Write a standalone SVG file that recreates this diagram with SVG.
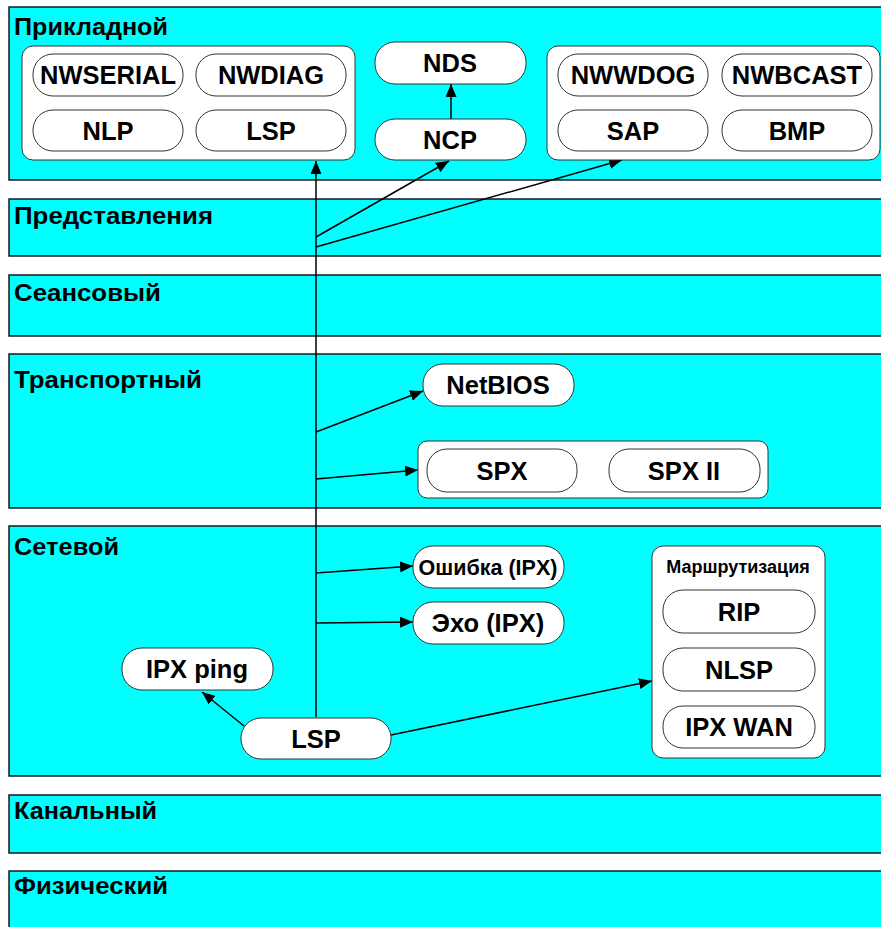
<svg xmlns="http://www.w3.org/2000/svg" width="881" height="927" viewBox="0 0 881 927">
<style>
.band{fill:#00ffff;stroke:#1a1a1a;stroke-width:1.5}
.grp{fill:#fff;stroke:#333;stroke-width:1}
.pill{fill:#fff;stroke:#333;stroke-width:1}
.lbl{font-family:"Liberation Sans",Arial,sans-serif;font-weight:bold;font-size:24px;fill:#000}
.t{font-family:"Liberation Sans",Arial,sans-serif;font-weight:bold;font-size:25.5px;fill:#000;text-anchor:middle}
.ts{font-size:21.5px}
.tr{font-size:18px}
.c{stroke:#000;stroke-width:1.5;fill:none;marker-end:url(#ah)}
</style>
<defs>
<marker id="ah" markerUnits="userSpaceOnUse" markerWidth="13" markerHeight="11" refX="13" refY="5.5" orient="auto">
<path d="M0,0 L13,5.5 L0,11 z" fill="#000"/>
</marker>
</defs>
<rect width="881" height="927" fill="#fff"/>
<g id="layers">
<g id="layer-app"><rect class="band" x="9" y="7" width="880" height="173"/><text class="lbl" x="14" y="35" textLength="154" lengthAdjust="spacingAndGlyphs">Прикладной</text></g>
<g id="layer-pres"><rect class="band" x="9" y="199" width="880" height="57"/><text class="lbl" x="14" y="224" textLength="199" lengthAdjust="spacingAndGlyphs">Представления</text></g>
<g id="layer-sess"><rect class="band" x="9" y="275" width="880" height="61"/><text class="lbl" x="14" y="301" textLength="147" lengthAdjust="spacingAndGlyphs">Сеансовый</text></g>
<g id="layer-trans"><rect class="band" x="9" y="354" width="880" height="154"/><text class="lbl" x="14" y="388" textLength="188" lengthAdjust="spacingAndGlyphs">Транспортный</text></g>
<g id="layer-net"><rect class="band" x="9" y="526" width="880" height="250"/><text class="lbl" x="14" y="555" textLength="105" lengthAdjust="spacingAndGlyphs">Сетевой</text></g>
<g id="layer-link"><rect class="band" x="9" y="795" width="880" height="58"/><text class="lbl" x="14" y="819" textLength="143" lengthAdjust="spacingAndGlyphs">Канальный</text></g>
<g id="layer-phys"><rect class="band" x="9" y="871" width="880" height="70"/><text class="lbl" x="14" y="894" textLength="154" lengthAdjust="spacingAndGlyphs">Физический</text></g>
</g>
<g id="connectors">
<line class="c" x1="316" y1="717" x2="316" y2="161"/>
<line class="c" x1="316" y1="237" x2="449" y2="161"/>
<line class="c" x1="316" y1="247" x2="622" y2="160"/>
<line class="c" x1="451" y1="119" x2="451" y2="84"/>
<line class="c" x1="316" y1="432" x2="423" y2="391"/>
<line class="c" x1="316" y1="479" x2="418" y2="470"/>
<line class="c" x1="316" y1="573" x2="413" y2="566"/>
<line class="c" x1="316" y1="623" x2="413" y2="622"/>
<line class="c" x1="244" y1="726" x2="202" y2="692"/>
<line class="c" x1="391" y1="735" x2="652" y2="681"/>
</g>
<g id="group-left"><rect class="grp" x="22" y="46" width="333" height="114" rx="11"/></g>
<g id="nwserial"><rect class="pill" x="33" y="54" width="150" height="42" rx="20"/><text class="t" x="108" y="84">NWSERIAL</text></g>
<g id="nwdiag"><rect class="pill" x="196" y="54" width="150" height="42" rx="20"/><text class="t" x="271" y="84">NWDIAG</text></g>
<g id="nlp"><rect class="pill" x="33" y="110" width="150" height="41" rx="20"/><text class="t" x="108" y="140">NLP</text></g>
<g id="lsp-app"><rect class="pill" x="196" y="110" width="150" height="41" rx="20"/><text class="t" x="271" y="140">LSP</text></g>
<g id="nds"><rect class="pill" x="375" y="42" width="151" height="42" rx="20"/><text class="t" x="450" y="72">NDS</text></g>
<g id="ncp"><rect class="pill" x="375" y="119" width="151" height="41" rx="20"/><text class="t" x="450" y="149">NCP</text></g>
<g id="group-right"><rect class="grp" x="547" y="46" width="333" height="114" rx="11"/></g>
<g id="nwwdog"><rect class="pill" x="558" y="54" width="150" height="42" rx="20"/><text class="t" x="633" y="84">NWWDOG</text></g>
<g id="nwbcast"><rect class="pill" x="722" y="54" width="150" height="42" rx="20"/><text class="t" x="797" y="84">NWBCAST</text></g>
<g id="sap"><rect class="pill" x="558" y="110" width="150" height="41" rx="20"/><text class="t" x="633" y="140">SAP</text></g>
<g id="bmp"><rect class="pill" x="722" y="110" width="150" height="41" rx="20"/><text class="t" x="797" y="140">BMP</text></g>
<g id="netbios"><rect class="pill" x="423" y="364" width="151" height="42" rx="20"/><text class="t" x="498" y="394">NetBIOS</text></g>
<g id="group-spx"><rect class="grp" x="418" y="441" width="350" height="57" rx="9"/></g>
<g id="spx"><rect class="pill" x="427" y="449" width="150" height="43" rx="20"/><text class="t" x="502" y="480">SPX</text></g>
<g id="spx2"><rect class="pill" x="609" y="449" width="151" height="43" rx="20"/><text class="t" x="684" y="480">SPX II</text></g>
<g id="error-ipx"><rect class="pill" x="413" y="546" width="151" height="42" rx="20"/><text class="t ts" x="488" y="575">Ошибка (IPX)</text></g>
<g id="echo-ipx"><rect class="pill" x="413" y="602" width="151" height="42" rx="20"/><text class="t" x="488" y="632">Эхо (IPX)</text></g>
<g id="ipx-ping"><rect class="pill" x="122" y="648" width="151" height="42" rx="20"/><text class="t" x="197" y="678">IPX ping</text></g>
<g id="lsp-net"><rect class="pill" x="241" y="718" width="150" height="41" rx="20"/><text class="t" x="316" y="748">LSP</text></g>
<g id="routing"><rect class="grp" x="652" y="546" width="173" height="212" rx="11"/><text class="t tr" x="738" y="573">Маршрутизация</text></g>
<g id="rip"><rect class="pill" x="663" y="590" width="152" height="43" rx="20"/><text class="t" x="739" y="621">RIP</text></g>
<g id="nlsp"><rect class="pill" x="663" y="648" width="152" height="43" rx="20"/><text class="t" x="739" y="679">NLSP</text></g>
<g id="ipxwan"><rect class="pill" x="663" y="706" width="152" height="42" rx="20"/><text class="t" x="739" y="736">IPX WAN</text></g>
</svg>
